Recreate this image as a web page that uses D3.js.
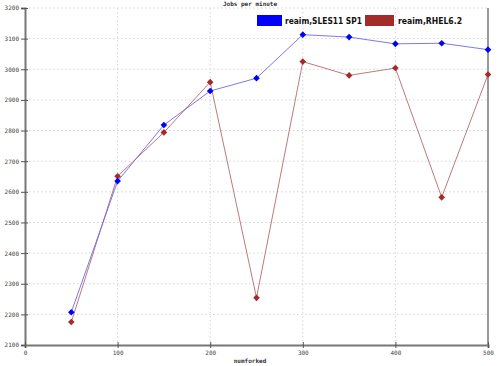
<!DOCTYPE html>
<html><head><meta charset="utf-8">
<script src="https://cdn.jsdelivr.net/npm/d3@7"></script>
<style>body{margin:0;background:#fff}svg{display:block}</style>
</head><body>
<script>
const xValues = [50,100,150,200,250,300,350,400,450,500];
const slesValues = [2207,2635,2818,2929,2971,3113,3105,3083,3085,3064];
const rhelValues = [2175,2651,2794,2958,2254,3025,2980,3004,2582,2983];
const seriesNames = ["reaim,SLES11 SP1","reaim,RHEL6.2"];
const xTicks = [0,100,200,300,400,500];
const yTicks = [2100,2200,2300,2400,2500,2600,2700,2800,2900,3000,3100,3200];

const W=500,H=366;
const svg=d3.select("body").append("svg").attr("width",W).attr("height",H);
const x=d3.scaleLinear().domain([0,500]).range([25,488]);
const y=d3.scaleLinear().domain([2100,3200]).range([345,8]);

// grid
svg.append("g").selectAll("line").data(yTicks.slice(1)).join("line")
 .attr("x1",25).attr("x2",488).attr("y1",d=>y(d)).attr("y2",d=>y(d))
 .attr("stroke","#d4d4d4").attr("stroke-dasharray","1.5,2.5").attr("stroke-width",1);
svg.append("g").selectAll("line").data(xTicks.slice(1,-1)).join("line")
 .attr("y1",8).attr("y2",345).attr("x1",d=>x(d)).attr("x2",d=>x(d))
 .attr("stroke","#d4d4d4").attr("stroke-dasharray","1.5,2.5").attr("stroke-width",1);

// right border
svg.append("line").attr("x1",x(500)).attr("x2",x(500)).attr("y1",8).attr("y2",345)
 .attr("stroke","#999").attr("stroke-width",2);

// axes
const yAxis=d3.axisLeft(y).tickValues(yTicks).tickSize(4).tickFormat(d3.format("d"));
const gy=svg.append("g").attr("transform","translate(25,0)").call(yAxis);
const xAxis=d3.axisBottom(x).tickValues(xTicks).tickSize(3).tickFormat(d3.format("d"));
const gx=svg.append("g").attr("transform","translate(0,345)").call(xAxis);
[gy,gx].forEach(g=>{
  g.select(".domain").attr("stroke","#777").attr("stroke-width",2);
  g.selectAll(".tick line").attr("stroke","#555").attr("stroke-width",1);
  g.selectAll("text").attr("font-family","DejaVu Sans Mono").attr("font-size",6).attr("fill","#444");
});
gy.selectAll(".tick line").attr("x2",3).attr("x1",-4);
gy.selectAll("text").attr("x",-6);
gx.selectAll(".tick line").attr("y1",-3).attr("y2",3);
gx.selectAll("text").attr("y",6);

// title & x label
svg.append("text").attr("x",250).attr("y",6).attr("text-anchor","middle")
 .attr("font-family","DejaVu Sans Mono").attr("font-size",6).attr("font-weight","bold").attr("fill","#333").text("Jobs per minute");
svg.append("text").attr("x",250).attr("y",363).attr("text-anchor","middle")
 .attr("font-family","DejaVu Sans Mono").attr("font-size",6).attr("font-weight","bold").attr("fill","#333").text("numforked");

// series
const series=[
 {name:seriesNames[0],vals:slesValues,line:"#6a6af0",mark:"#0000ff"},
 {name:seriesNames[1],vals:rhelValues,line:"#b86a6a",mark:"#a52a2a"}
];
const line=d3.line().x((d,i)=>x(xValues[i])).y(d=>y(d));
series.slice().reverse().forEach(s=>{
  svg.append("path").datum(s.vals).attr("d",line).attr("fill","none")
   .attr("stroke",s.line).attr("stroke-width",0.9);
});
series.slice().reverse().forEach(s=>{
  svg.append("g").selectAll("path").data(s.vals).join("path")
   .attr("transform",(d,i)=>`translate(${x(xValues[i])},${y(d)}) rotate(45)`)
   .attr("d",d3.symbol().type(d3.symbolSquare).size(22)).attr("fill",s.mark);
});

// legend
const leg=[{x:257,w:25,tx:285,tw:77},{x:365,w:29,tx:398,tw:64}];
series.forEach((s,i)=>{
  svg.append("rect").attr("x",leg[i].x).attr("y",15).attr("width",leg[i].w).attr("height",11).attr("fill",s.mark);
  svg.append("text").attr("x",leg[i].tx).attr("y",24).attr("font-family","DejaVu Sans")
   .attr("font-size",8.5).attr("font-weight","bold").attr("fill","#111")
   .attr("textLength",leg[i].tw).attr("lengthAdjust","spacingAndGlyphs").text(s.name);
});
</script>
</body></html>
